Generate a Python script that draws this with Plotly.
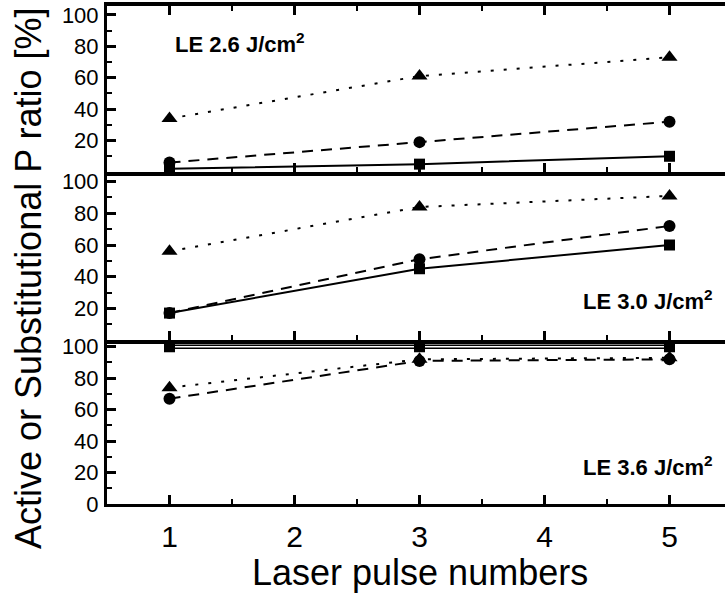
import plotly.graph_objects as go

# ---- data ----
pulses = [1, 3, 5]
x_tick_labels = ["1", "2", "3", "4", "5"]

# LE 2.6 J/cm2 (top panel)
le26_square = [2, 5, 10]
le26_circle = [6, 19, 32]
le26_triangle = [34, 61, 73]

# LE 3.0 J/cm2 (middle panel)
le30_square = [17, 45, 60]
le30_circle = [17, 51, 72]
le30_triangle = [56, 84, 91]

# LE 3.6 J/cm2 (bottom panel)
le36_square = [100, 100, 100]
le36_circle = [67, 91, 92]
le36_triangle = [74, 92, 93]

panel_labels = ["LE 2.6 J/cm<sup>2</sup>", "LE 3.0 J/cm<sup>2</sup>", "LE 3.6 J/cm<sup>2</sup>"]

FONT = "Liberation Sans, Arial, sans-serif"
fig = go.Figure()

def add_panel(xa, ya, sq, ci, tr, double_square=False):
    if double_square:
        fig.add_trace(go.Scatter(x=pulses, y=sq, xaxis=xa, yaxis=ya, mode="lines",
                                 line=dict(color="black", width=4.5), showlegend=False, hoverinfo="skip"))
        fig.add_trace(go.Scatter(x=pulses, y=sq, xaxis=xa, yaxis=ya, mode="lines",
                                 line=dict(color="white", width=1.5), showlegend=False, hoverinfo="skip"))
        fig.add_trace(go.Scatter(x=pulses, y=sq, xaxis=xa, yaxis=ya, mode="markers",
                                 marker=dict(symbol="square", size=11, color="black"),
                                 showlegend=False))
    else:
        fig.add_trace(go.Scatter(x=pulses, y=sq, xaxis=xa, yaxis=ya, mode="lines+markers",
                                 line=dict(color="black", width=2),
                                 marker=dict(symbol="square", size=11, color="black"),
                                 showlegend=False))
    fig.add_trace(go.Scatter(x=pulses, y=ci, xaxis=xa, yaxis=ya, mode="lines+markers",
                             line=dict(color="black", width=2, dash="11px,8px"),
                             marker=dict(symbol="circle", size=12, color="black"),
                             showlegend=False))
    fig.add_trace(go.Scatter(x=pulses, y=tr, xaxis=xa, yaxis=ya, mode="lines+markers",
                             line=dict(color="black", width=2, dash="3px,10px"),
                             marker=dict(symbol="triangle-up", size=14, color="black"),
                             showlegend=False))

add_panel("x", "y", le36_square, le36_circle, le36_triangle, double_square=True)
add_panel("x2", "y2", le30_square, le30_circle, le30_triangle)
add_panel("x3", "y3", le26_square, le26_circle, le26_triangle)

H_TOP, H_BOT = 6, 504
plot_h = H_BOT - H_TOP
b1 = (H_BOT - 340) / plot_h
b2 = (H_BOT - 172) / plot_h

xcommon = dict(range=[0.5, 5.444], tickmode="array", tickvals=[1, 2, 3, 4, 5],
               ticktext=x_tick_labels, ticks="inside", ticklen=9, tickwidth=2.5,
               tickcolor="black", showline=True, linecolor="black",
               showgrid=False, zeroline=False,
               minor=dict(ticks="inside", ticklen=5, tickwidth=2, tickcolor="black",
                          tickmode="linear", tick0=0.5, dtick=1),
               tickfont=dict(family=FONT, size=30, color="black"))
ycommon = dict(ticks="inside", ticklen=9, tickwidth=2.5, tickcolor="black",
               showline=True, linewidth=3, linecolor="black", showgrid=False,
               zeroline=False, ticklabelstandoff=1,
               minor=dict(ticks="inside", ticklen=5, tickwidth=2, tickcolor="black",
                          tickmode="linear", tick0=0, dtick=10),
               tickfont=dict(family=FONT, size=22, color="black"))

fig.update_layout(
    width=725, height=597,
    margin=dict(l=107, r=0, t=H_TOP, b=597 - H_BOT),
    paper_bgcolor="white", plot_bgcolor="white",
    xaxis=dict(**xcommon, anchor="y", ticklabelstandoff=4, linewidth=3, mirror=False),
    xaxis2=dict(**xcommon, anchor="y2", matches="x", showticklabels=False,
                linewidth=4, mirror=False),
    xaxis3=dict(**xcommon, anchor="y3", matches="x", showticklabels=False,
                linewidth=4, mirror="ticks"),
    yaxis=dict(**ycommon, domain=[0, b1], range=[0, 104.3], anchor="x",
               tickmode="array", tickvals=[0, 20, 40, 60, 80, 100]),
    yaxis2=dict(**ycommon, domain=[b1, b2], range=[0, 106.1], anchor="x2",
                tickmode="array", tickvals=[20, 40, 60, 80, 100]),
    yaxis3=dict(**ycommon, domain=[b2, 1], range=[0, 105.6], anchor="x3",
                tickmode="array", tickvals=[20, 40, 60, 80, 100]),
    showlegend=False,
)

def px_x(px):
    return (px - 107) / 618

def px_y(py):
    return (H_BOT - py) / plot_h

ann_font = dict(family=FONT, size=22, color="black")
fig.add_annotation(x=px_x(173), y=px_y(43), xref="paper", yref="paper",
                   text="<b>" + panel_labels[0] + "</b>", showarrow=False,
                   xanchor="left", yanchor="middle", font=ann_font)
fig.add_annotation(x=px_x(715), y=px_y(300), xref="paper", yref="paper",
                   text="<b>" + panel_labels[1] + "</b>", showarrow=False,
                   xanchor="right", yanchor="middle", font=ann_font)
fig.add_annotation(x=px_x(715), y=px_y(466), xref="paper", yref="paper",
                   text="<b>" + panel_labels[2] + "</b>", showarrow=False,
                   xanchor="right", yanchor="middle", font=ann_font)

# axis titles
fig.add_annotation(x=px_x(28), y=px_y(278), xref="paper", yref="paper",
                   text="Active or Substitutional P ratio [%]", showarrow=False,
                   textangle=-90, xanchor="center", yanchor="middle",
                   font=dict(family=FONT, size=36, color="black"))
fig.add_annotation(x=px_x(420), y=px_y(572), xref="paper", yref="paper",
                   text="Laser pulse numbers", showarrow=False,
                   xanchor="center", yanchor="middle",
                   font=dict(family=FONT, size=36, color="black"))

fig.write_html("out.html", config={"displayModeBar": False},
               post_script="document.body.style.margin='0';")
